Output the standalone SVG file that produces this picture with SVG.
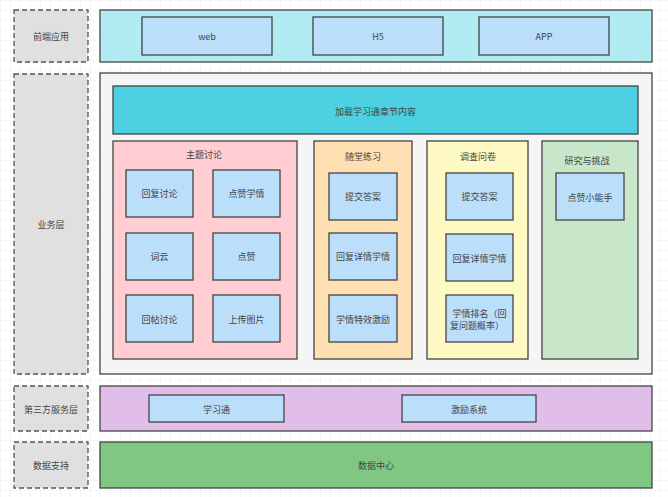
<svg xmlns="http://www.w3.org/2000/svg" width="668" height="497" viewBox="0 0 668 497">
<defs>
<pattern id="grid" width="10" height="10" patternUnits="userSpaceOnUse">
<path d="M10 0H0V10" fill="none" stroke="#ececec" stroke-width="1"/>
</pattern>
</defs>
<style>
text{font-family:"Noto Sans CJK SC","Liberation Sans",sans-serif;font-size:9px;fill:#444;text-anchor:middle;dominant-baseline:central}
.lab{fill:#e0e0e0;stroke:#555;stroke-width:1.3;stroke-dasharray:5 3}
.pan{stroke:#444;stroke-width:1.3}
.box{fill:#bbdefb;stroke:#444;stroke-width:1.3}
</style>
<rect width="668" height="497" fill="#ffffff"/>
<rect width="668" height="497" fill="url(#grid)"/>

<g id="label-frontend"><rect class="lab" x="14" y="10" width="74" height="52"/><text x="51" y="36">前端应用</text></g>
<g id="label-business"><rect class="lab" x="14" y="74" width="74" height="300"/><text x="51" y="224">业务层</text></g>
<g id="label-third"><rect class="lab" x="14" y="386" width="74" height="45"/><text x="51" y="409">第三方服务层</text></g>
<g id="label-data"><rect class="lab" x="14" y="442" width="74" height="46"/><text x="51" y="465">数据支持</text></g>

<g id="frontend"><rect class="pan" x="100" y="10" width="552" height="52" fill="#b2ebf2"/></g>
<g id="web"><rect class="box" x="142" y="17" width="130" height="38"/><text x="207" y="36">web</text></g>
<g id="h5"><rect class="box" x="313" y="17" width="130" height="38"/><text x="378" y="36">H5</text></g>
<g id="app"><rect class="box" x="479" y="17" width="130" height="38"/><text x="544" y="36">APP</text></g>

<g id="business"><rect class="pan" x="100" y="73" width="552" height="301" fill="#f5f5f5"/></g>
<g id="load"><rect class="pan" x="113" y="86" width="525" height="48" fill="#4dd0e1"/><text x="375.5" y="111">加载学习通章节内容</text></g>

<g id="topic"><rect class="pan" x="113" y="141" width="184" height="218" fill="#ffcdd2"/><text x="204" y="154">主题讨论</text></g>
<g id="t1"><rect class="box" x="126" y="170" width="67" height="47"/><text x="159.5" y="193.5">回复讨论</text></g>
<g id="t2"><rect class="box" x="213" y="170" width="67" height="47"/><text x="246.5" y="193.5">点赞学情</text></g>
<g id="t3"><rect class="box" x="126" y="233" width="67" height="47"/><text x="159.5" y="256.5">词云</text></g>
<g id="t4"><rect class="box" x="213" y="233" width="67" height="47"/><text x="246.5" y="256.5">点赞</text></g>
<g id="t5"><rect class="box" x="126" y="295" width="67" height="47"/><text x="159.5" y="319">回帖讨论</text></g>
<g id="t6"><rect class="box" x="213" y="295" width="67" height="47"/><text x="246.5" y="319">上传图片</text></g>

<g id="practice"><rect class="pan" x="314" y="141" width="98" height="218" fill="#ffe0b2"/><text x="363" y="156">随堂练习</text></g>
<g id="p1"><rect class="box" x="329" y="173" width="68" height="47"/><text x="363" y="196.5">提交答案</text></g>
<g id="p2"><rect class="box" x="329" y="233" width="68" height="47"/><text x="363" y="256.5">回复详情学情</text></g>
<g id="p3"><rect class="box" x="329" y="295" width="68" height="47"/><text x="363" y="319">学情特效激励</text></g>

<g id="survey"><rect class="pan" x="427" y="141" width="101" height="218" fill="#fff9c4"/><text x="478" y="156">调查问卷</text></g>
<g id="s1"><rect class="box" x="446" y="173" width="67" height="47"/><text x="479.5" y="196.5">提交答案</text></g>
<g id="s2"><rect class="box" x="446" y="234" width="67" height="47"/><text x="479.5" y="258">回复详情学情</text></g>
<g id="s3"><rect class="box" x="446" y="295" width="67" height="47"/><text x="479.5" y="313">学情排名（回</text><text x="477" y="325">复问题概率）</text></g>

<g id="research"><rect class="pan" x="542" y="141" width="96" height="218" fill="#c8e6c9"/><text x="587" y="160">研究与挑战</text></g>
<g id="r1"><rect class="box" x="556" y="173" width="68" height="47"/><text x="590" y="197">点赞小能手</text></g>

<g id="third"><rect class="pan" x="100" y="386" width="552" height="45" fill="#e1bee7"/></g>
<g id="xxt"><rect class="box" x="149" y="395" width="135" height="27"/><text x="216.5" y="409">学习通</text></g>
<g id="incentive"><rect class="box" x="402" y="395" width="134" height="27"/><text x="469" y="409">激励系统</text></g>

<g id="data"><rect class="pan" x="100" y="442" width="552" height="46" fill="#81c784"/><text x="376" y="465">数据中心</text></g>

<g id="connectors"></g>
</svg>
